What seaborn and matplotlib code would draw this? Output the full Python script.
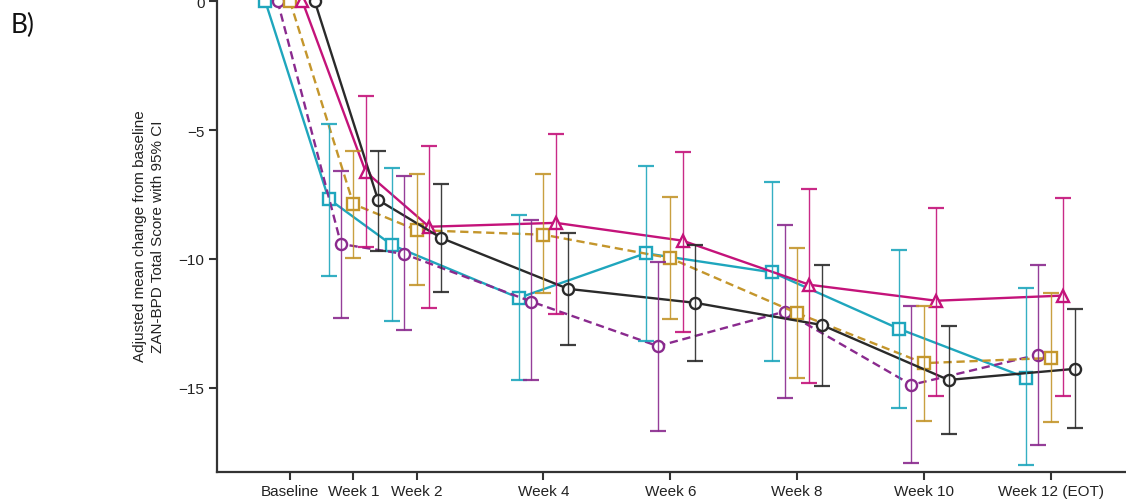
import numpy as np
import pandas as pd
import seaborn as sns
import matplotlib.pyplot as plt

# visit weeks and tick labels
weeks = [0, 1, 2, 4, 6, 8, 10, 12]
week_labels = ["Baseline", "Week 1", "Week 2", "Week 4", "Week 6", "Week 8", "Week 10", "Week 12 (EOT)"]

groups = ["cyan", "purple", "gold", "magenta", "black"]

# adjusted mean change from baseline
cyan_mean = [0, -7.67, -9.46, -11.51, -9.78, -10.52, -12.71, -14.60]
cyan_lo = [np.nan, -10.65, -12.41, -14.69, -13.17, -13.97, -15.79, -17.97]
cyan_hi = [np.nan, -4.77, -6.47, -8.29, -6.41, -7.03, -9.64, -11.14]

purple_mean = [0, -9.42, -9.81, -11.65, -13.38, -12.04, -14.88, -13.71]
purple_lo = [np.nan, -12.30, -12.75, -14.69, -16.69, -15.40, -17.91, -17.21]
purple_hi = [np.nan, -6.58, -6.80, -8.48, -10.10, -8.68, -11.81, -10.22]

gold_mean = [0, -7.87, -8.88, -9.06, -9.97, -12.10, -14.04, -13.84]
gold_lo = [np.nan, -9.97, -11.00, -11.32, -12.34, -14.60, -16.27, -16.33]
gold_hi = [np.nan, -5.80, -6.70, -6.72, -7.61, -9.59, -11.81, -11.32]

magenta_mean = [0, -6.62, -8.75, -8.60, -9.29, -11.00, -11.62, -11.42]
magenta_lo = [np.nan, -9.55, -11.91, -12.13, -12.83, -14.81, -15.32, -15.30]
magenta_hi = [np.nan, -3.67, -5.63, -5.14, -5.84, -7.29, -8.02, -7.65]

black_mean = [0, -7.71, -9.19, -11.16, -11.70, -12.56, -14.69, -14.26]
black_lo = [np.nan, -9.68, -11.29, -13.33, -13.97, -14.91, -16.78, -16.54]
black_hi = [np.nan, -5.80, -7.09, -9.00, -9.46, -10.22, -12.60, -11.95]

means = {"cyan": cyan_mean, "purple": purple_mean, "gold": gold_mean,
         "magenta": magenta_mean, "black": black_mean}
lows = {"cyan": cyan_lo, "purple": purple_lo, "gold": gold_lo,
        "magenta": magenta_lo, "black": black_lo}
highs = {"cyan": cyan_hi, "purple": purple_hi, "gold": gold_hi,
         "magenta": magenta_hi, "black": black_hi}

palette = {"cyan": "#1fa6bd", "purple": "#8a2a8e", "gold": "#c4962c",
           "magenta": "#c4137a", "black": "#2a2a2a"}
markers = {"cyan": "s", "purple": "o", "gold": "s", "magenta": "^", "black": "o"}
dashes = {"cyan": "", "purple": (3.5, 2), "gold": (3.5, 2), "magenta": "", "black": ""}
offsets = {"cyan": -0.39, "purple": -0.195, "gold": 0.0, "magenta": 0.195, "black": 0.39}

rows = []
for g in groups:
    for i, w in enumerate(weeks):
        rows.append({"group": g, "x": w + offsets[g], "mean": means[g][i],
                     "lo": lows[g][i], "hi": highs[g][i]})
df = pd.DataFrame(rows)

sns.set_style("ticks")
plt.rcParams["font.family"] = ["Liberation Sans", "DejaVu Sans"]

fig = plt.figure(figsize=(11.26, 5.02), dpi=100)
ax = fig.add_axes([0.1927, 0.0578, 0.8073, 0.9422])

# series lines with hollow markers
sns.lineplot(data=df, x="x", y="mean", hue="group", style="group",
             hue_order=groups, style_order=groups, palette=palette,
             markers=markers, dashes=dashes, errorbar=None, sort=True,
             linewidth=1.7, markersize=8, legend=False, ax=ax, zorder=3)

for line in list(ax.lines):
    line.set_markerfacecolor("white")
    line.set_markeredgecolor(line.get_color())
    line.set_markeredgewidth(1.7)

# 95% CI bars
for g in groups:
    sub = df[df["group"] == g].dropna()
    ax.errorbar(sub["x"], sub["mean"],
                yerr=[sub["mean"] - sub["lo"], sub["hi"] - sub["mean"]],
                fmt="none", ecolor=palette[g], elinewidth=1.0, capsize=5.5,
                capthick=1.6, alpha=0.9, zorder=4)

ax.set_xlim(-1.151, 13.19)
ax.set_ylim(-18.26, 0.08)
ax.set_xticks(weeks)
ax.set_xticklabels(week_labels)
ax.set_yticks([0, -5, -10, -15])
ax.set_yticklabels(["0", "\u22125", "\u221210", "\u221215"])
ax.tick_params(axis="both", labelsize=11, length=6, width=1.5, color="#333333",
               labelcolor="#222222", pad=3)

ax.set_xlabel("")
ax.set_ylabel("Adjusted mean change from baseline\nZAN-BPD Total Score with 95% CI",
              fontsize=11, color="#222222", labelpad=10, linespacing=1.3)

for side in ["left", "bottom"]:
    ax.spines[side].set_linewidth(1.6)
    ax.spines[side].set_color("#333333")
sns.despine(ax=ax)

fig.text(0.009, 0.975, "B)", fontsize=19, family=["Lato", "DejaVu Sans"],
         va="top", ha="left", color="#111111")

fig.savefig("out.png", dpi=100)
